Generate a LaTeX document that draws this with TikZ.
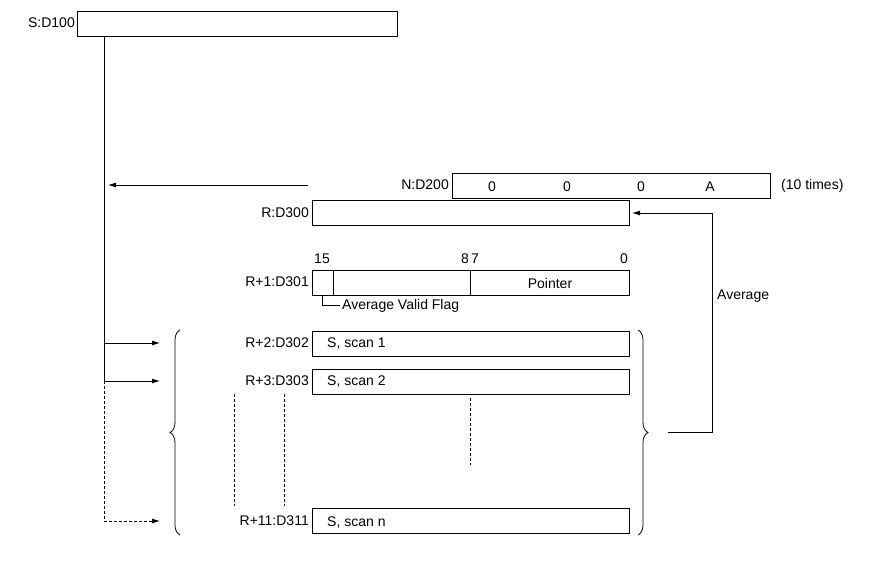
\documentclass[tikz,border=0pt]{standalone}
\usepackage{fontspec}
\setmainfont{Liberation Sans}
\usetikzlibrary{decorations.pathreplacing,arrows.meta}
\begin{document}
\begin{tikzpicture}[x=1pt,y=-1pt,font=\fontsize{14}{16}\selectfont,
 box/.style={draw,line width=0.8pt,anchor=north west,inner sep=0,minimum height=25pt},
 lab/.style={anchor=east,inner sep=1pt},
 txt/.style={inner sep=1pt},
 ln/.style={line width=0.8pt},
 arr/.style={ln,-{Latex[length=8pt,width=5pt]}},
 dsh/.style={ln,dash pattern=on 3pt off 2pt}]
\useasboundingbox (0,0) rectangle (873,568);
% S
\node[box,minimum width=320pt] (S) at (77,11) {};
\node[lab] (Sl) at (76,23) {S:D100};
\coordinate (v0) at (104,37);
\coordinate (v1) at (104,381);
\coordinate (v2) at (104,521);
\draw[ln] (v0) -- (v1);
\draw[dsh] (v1) -- (v2);
% N
\node[box,minimum width=318pt] (N) at (452,173) {};
\node[lab] (Nl) at (450,185) {N:D200};
\node[txt] (n1) at (492,187) {0};
\node[txt] (n2) at (567,187) {0};
\node[txt] (n3) at (641,187) {0};
\node[txt] (n4) at (710,187) {A};
\node[txt,anchor=west] (nt) at (780,186) {(10 times)};
\coordinate (na) at (308,185);
\coordinate (nb) at (108,185);
\draw[arr] (na) -- (nb);
% R
\node[box,minimum width=317pt] (R) at (312,200) {};
\node[lab] (Rl) at (310,213) {R:D300};
\node[txt] (b15) at (322,259) {15};
\node[txt] (b87) at (470,259) {8\,7};
\node[txt] (b0) at (624,259) {0};
\node[box,minimum width=317pt] (R1) at (312,270) {};
\node[lab] (R1l) at (310,282) {R+1:D301};
\draw[ln] (333,270) -- (333,295) (470,270) -- (470,295);
\node[txt] (ptr) at (550,283) {Pointer};
\coordinate (f0) at (322,295);
\coordinate (f1) at (322,305);
\coordinate (f2) at (340,305);
\draw[ln] (f0) -- (f1) -- (f2);
\node[txt,anchor=west] (avf) at (341,306) {Average Valid Flag};
% scans
\node[box,minimum width=317pt] (R2) at (312,331) {};
\node[lab] (R2l) at (310,343) {R+2:D302};
\node[txt,anchor=west] at (326,344) {S, scan 1};
\node[box,minimum width=317pt] (R3) at (312,369) {};
\node[lab] (R3l) at (310,381) {R+3:D303};
\node[txt,anchor=west] at (326,382) {S, scan 2};
\node[box,minimum width=317pt] (R11) at (312,508) {};
\node[lab] (R11l) at (310,521) {R+11:D311};
\node[txt,anchor=west] at (326,522) {S, scan n};
\coordinate (a2) at (160,343);
\coordinate (a3) at (160,381);
\coordinate (a11) at (160,521);
\draw[arr] (104,343) -- (a2);
\draw[arr] (v1) -- (a3);
\draw[dsh,-{Latex[length=8pt,width=5pt]}] (v2) -- (a11);
\draw[dsh] (234,394) -- (234,506) (284,394) -- (284,506) (470,398) -- (470,465);
% braces
\draw[ln,decorate,decoration={brace,amplitude=10pt,aspect=0.5}] (180,535) -- (180,330);
\draw[ln,decorate,decoration={brace,amplitude=10pt,aspect=0.5}] (638,330) -- (638,535);
% average
\coordinate (g0) at (668,432);
\coordinate (g1) at (712,432);
\coordinate (g2) at (712,213);
\coordinate (g3) at (632,213);
\draw[arr] (g0) -- (g1) -- (g2) -- (g3);
\node[txt,anchor=west] (avg) at (716,296) {Average};
\end{tikzpicture}
\end{document}
